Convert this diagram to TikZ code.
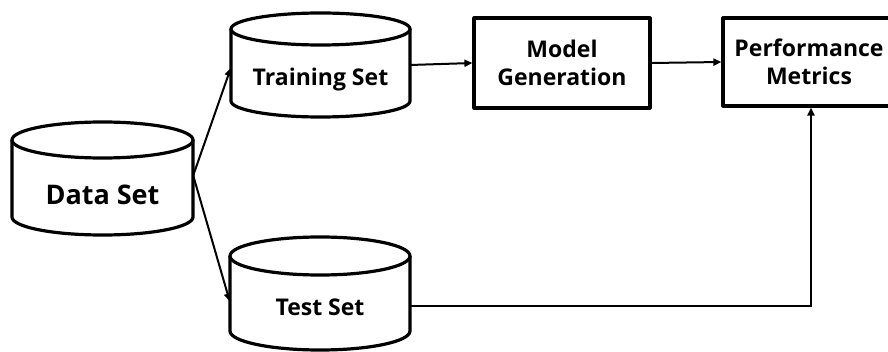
\documentclass[tikz,border=0pt]{standalone}
\usepackage{fontspec}
\setmainfont{Open Sans}
\usetikzlibrary{arrows.meta}
\tikzset{
  shapeline/.style={line width=3.2pt, line join=round},
  conn/.style={line width=2pt, -{Triangle[length=8pt,width=7pt]}},
  lbl/.style={font=\bfseries\fontsize{23}{28}\selectfont, align=center, inner sep=0pt},
  biglbl/.style={font=\bfseries\fontsize{27}{32}\selectfont, align=center, inner sep=0pt},
  procbox/.style={shapeline, draw, fill=white, align=center, inner sep=0pt,
    font=\bfseries\fontsize{23}{28}\selectfont},
}
% name, cx, ytop-centre, ybottom-centre, rx, ry
\newcommand{\mycyl}[6]{%
  \draw[shapeline, fill=white] ({#2-#5},#3) -- ({#2-#5},#4)
    arc[start angle=180, end angle=360, x radius=#5, y radius=#6] -- ({#2+#5},#3);
  \draw[shapeline, fill=white] (#2,#3) ellipse[x radius=#5, y radius=#6];
  \node[inner sep=0pt, minimum width={2*#5}, minimum height={#3-#4}] (#1) at (#2,{(#3+#4)/2}) {};
}
\begin{document}
\begin{tikzpicture}[x=1pt, y=1pt]
  \useasboundingbox (0,0) rectangle (888,351);
  \fill[white] (0,0) rectangle (888,351);
  \begin{scope}
    \clip (0,0) rectangle (888,351);
    % cylinders
    \mycyl{data}{102.5}{211}{134}{90.5}{18}
    \node[biglbl] (datalbl) at (102.5,156) {Data Set};
    \mycyl{train}{320.5}{322}{250}{89.5}{16}
    \node[lbl] (trainlbl) at (320.5,271) {Training Set};
    \mycyl{test}{320}{95}{20}{90}{19}
    \node[lbl] (testlbl) at (320,44) {Test Set};
    % boxes
    \node[procbox, minimum width=176pt, minimum height=90pt] (model) at (562,288) {Model\\Generation};
    \node[procbox, minimum width=172pt, minimum height=88pt] (perf) at (809,289) {Performance\\Metrics};
    % connectors
    \coordinate (dsrc) at ([yshift=3pt]data.east);
    \draw[conn] (dsrc) -- ([yshift=-3pt]train.west);
    \draw[conn] (dsrc) -- ([yshift=-8pt]test.west);
    \draw[conn] (train.east) -- (model.west);
    \draw[conn] (model.east) -- (perf.west);
    \draw[conn] ([yshift=-12pt]test.east) -| ([xshift=2pt]perf.south);
  \end{scope}
\end{tikzpicture}
\end{document}
